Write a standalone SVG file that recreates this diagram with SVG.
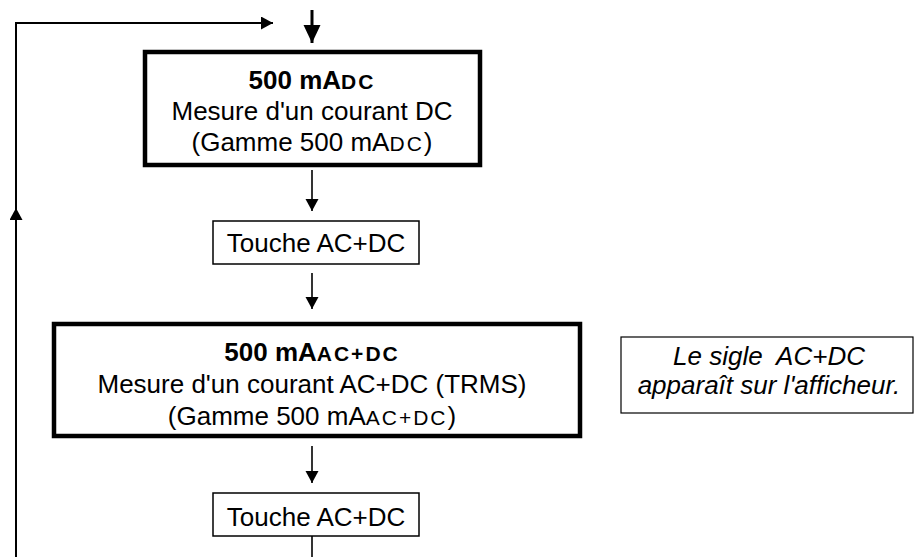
<svg xmlns="http://www.w3.org/2000/svg" width="915" height="557" viewBox="0 0 915 557">
<style>
  .t{font-family:"Liberation Sans",Arial,sans-serif;font-size:26px;fill:#000;text-anchor:middle}
  .b{font-weight:bold}
  .sc{font-size:21px;letter-spacing:2px}
  .i{font-style:italic}
  .thick{fill:#fff;stroke:#000;stroke-width:4.5}
  .thin{fill:#fff;stroke:#000;stroke-width:1.5}
  .note{fill:#fff;stroke:#000;stroke-width:1.2}
  .ln{fill:none;stroke:#000;stroke-width:1.6}
</style>
<defs>
  <marker id="ah" markerUnits="userSpaceOnUse" markerWidth="14" markerHeight="14" refX="12" refY="6.5" orient="auto">
    <path d="M0,0 L12,6.5 L0,13 Z" fill="#000"/>
  </marker>
  <marker id="ahBig" markerUnits="userSpaceOnUse" markerWidth="20" markerHeight="20" refX="18" refY="8.5" orient="auto">
    <path d="M0,0 L18,8.5 L0,17 Z" fill="#000"/>
  </marker>
</defs>
<g id="connectors">
  <path class="ln" d="M312,10 L312,43" style="stroke-width:3" marker-end="url(#ahBig)"/>
  <path class="ln" d="M312,170 L312,211" marker-end="url(#ah)"/>
  <path class="ln" d="M312,273 L312,309" marker-end="url(#ah)"/>
  <path class="ln" d="M312,446 L312,483" marker-end="url(#ah)"/>
  <path class="ln" d="M312,536 L312,557"/>
  <path class="ln" d="M16,557 L16,23 L273,23" style="stroke-width:2" marker-end="url(#ah)"/>
  <path class="ln" d="M16,240 L16,208" style="stroke-width:2" marker-end="url(#ah)"/>
</g>
<g id="box1">
  <rect class="thick" x="145" y="52" width="335" height="113"/>
  <text class="t b" x="312" y="89">500 mA<tspan class="sc">DC</tspan></text>
  <text class="t" x="312" y="120">Mesure d'un courant DC</text>
  <text class="t" x="312" y="151">(Gamme 500 mA<tspan class="sc">DC</tspan>)</text>
</g>
<g id="touche1">
  <rect class="thin" x="213" y="221" width="206" height="43"/>
  <text class="t" x="316" y="252">Touche AC+DC</text>
</g>
<g id="box2">
  <rect class="thick" x="54" y="324" width="526" height="112"/>
  <text class="t b" x="312" y="361">500 mA<tspan class="sc">AC+DC</tspan></text>
  <text class="t" x="312" y="393">Mesure d'un courant AC+DC (TRMS)</text>
  <text class="t" x="312" y="425">(Gamme 500 mA<tspan class="sc">AC+DC</tspan>)</text>
</g>
<g id="touche2">
  <rect class="thin" x="213" y="493" width="206" height="43"/>
  <text class="t" x="316" y="526">Touche AC+DC</text>
</g>
<g id="note">
  <rect class="note" x="621" y="337" width="292" height="76"/>
  <text class="t i" x="769" y="365" xml:space="preserve">Le sigle  AC+DC</text>
  <text class="t i" x="769" y="394">apparaît sur l'afficheur.</text>
</g>
</svg>
